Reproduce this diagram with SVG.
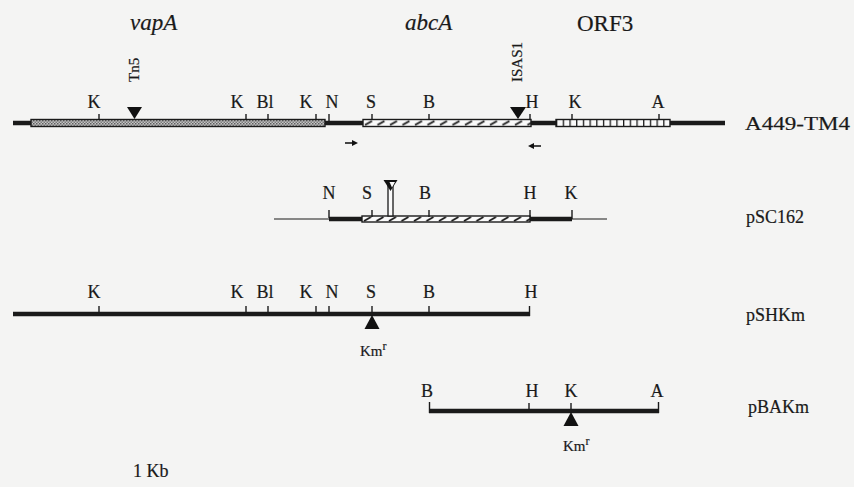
<svg xmlns="http://www.w3.org/2000/svg" width="854" height="487" viewBox="0 0 854 487">
  <defs>
    <style>
      text { stroke: #1a1a1a; stroke-width: 0.2; }
      .lbl { font-family: "Liberation Serif", "Times New Roman", serif; font-size: 18px; fill: #1a1a1a; text-anchor: middle; }
      .name { font-family: "Liberation Serif", "Times New Roman", serif; font-size: 18px; fill: #1a1a1a; }
      .gene { font-family: "Liberation Serif", "Times New Roman", serif; font-size: 23px; fill: #1a1a1a; }
      .ins { font-family: "Liberation Serif", "Times New Roman", serif; font-size: 15px; fill: #1a1a1a; }
      .dna { stroke: #1a1a1a; stroke-width: 4.5; fill: none; }
      .thin { stroke: #1a1a1a; stroke-width: 1.2; fill: none; }
      .tick { stroke: #1a1a1a; stroke-width: 1.4; }
      .box { stroke: #1a1a1a; stroke-width: 1.4; }
      .mark { fill: #111; }
    </style>
    <!-- grey stipple for the vapA region -->
    <pattern id="stipple" width="3" height="3" patternUnits="userSpaceOnUse">
      <rect width="3" height="3" fill="#c4c4c4"/>
      <rect width="1.5" height="1.5" fill="#5e5e5e"/>
      <rect x="1.5" y="1.5" width="1.5" height="1.5" fill="#7a7a7a"/>
    </pattern>
    <!-- slanted dashes for the abcA region -->
    <pattern id="hatch" width="12.5" height="7" patternUnits="userSpaceOnUse" x="363" y="119.5">
      <rect width="12.5" height="7" fill="#fafafa"/>
      <line x1="2" y1="5.5" x2="9" y2="1.5" stroke="#1a1a1a" stroke-width="1.9"/>
    </pattern>
    <pattern id="hatch2" width="12.5" height="6" patternUnits="userSpaceOnUse" x="362" y="216">
      <rect width="12.5" height="6" fill="#fafafa"/>
      <line x1="2" y1="5" x2="9" y2="1" stroke="#1a1a1a" stroke-width="1.9"/>
    </pattern>
    <!-- ladder rungs for the ORF3 region -->
    <pattern id="ladder" width="6.7" height="7" patternUnits="userSpaceOnUse" x="556" y="119.5">
      <rect width="6.7" height="7" fill="#fafafa"/>
      <line x1="0.5" y1="0" x2="0.5" y2="7" stroke="#1a1a1a" stroke-width="1.6"/>
    </pattern>
  </defs>

  <rect width="854" height="487" fill="#f4f4f3"/>

  <!-- gene names -->
  <g id="genes">
    <text class="gene" x="130" y="30" font-style="italic">vapA</text>
    <text class="gene" x="405" y="30" font-style="italic">abcA</text>
    <text class="gene" x="577" y="31">ORF3</text>
  </g>

  <!-- chromosome of A449-TM4 -->
  <g id="A449-TM4">
    <line class="dna" x1="13" y1="123" x2="725" y2="123"/>
    <rect class="box" x="31" y="119.5" width="294" height="7" fill="url(#stipple)"/>
    <rect class="box" x="363" y="119.5" width="168" height="7" fill="url(#hatch)"/>
    <rect class="box" x="556" y="119.5" width="114" height="7" fill="url(#ladder)"/>
    <g class="tick">
      <line x1="99" y1="114" x2="99" y2="120"/>
      <line x1="246" y1="114" x2="246" y2="120"/>
      <line x1="268" y1="114" x2="268" y2="120"/>
      <line x1="316" y1="114" x2="316" y2="120"/>
      <line x1="329" y1="114" x2="329" y2="121"/>
      <line x1="372" y1="114" x2="372" y2="120"/>
      <line x1="429" y1="114" x2="429" y2="120"/>
      <line x1="530" y1="114" x2="530" y2="120"/>
      <line x1="572" y1="114" x2="572" y2="120"/>
      <line x1="659" y1="114" x2="659" y2="120"/>
    </g>
    <text class="lbl" x="94" y="108">K</text>
    <text class="lbl" x="237" y="108">K</text>
    <text class="lbl" x="265" y="108">Bl</text>
    <text class="lbl" x="306" y="108">K</text>
    <text class="lbl" x="332" y="108">N</text>
    <text class="lbl" x="371" y="108">S</text>
    <text class="lbl" x="429" y="108">B</text>
    <text class="lbl" x="532" y="108">H</text>
    <text class="lbl" x="575" y="108">K</text>
    <text class="lbl" x="658" y="108">A</text>
    <!-- insertions -->
    <polygon class="mark" points="127,107 142,107 134.5,119"/>
    <text class="ins" transform="translate(139,82) rotate(-90)">Tn5</text>
    <polygon class="mark" points="510,107 526,107 518,119"/>
    <text class="ins" transform="translate(522,82) rotate(-90)">ISAS1</text>
    <text class="name" x="745" y="130" font-size="24" textLength="105" lengthAdjust="spacingAndGlyphs">A449-TM4</text>
  </g>

  <!-- primer arrows -->
  <g id="connectors">
    <path d="M345 143 H353" stroke="#1a1a1a" stroke-width="1.6"/>
    <polygon class="mark" points="352,140 358,143 352,146"/>
    <path d="M541 146 H533" stroke="#1a1a1a" stroke-width="1.6"/>
    <polygon class="mark" points="534,143 528,146 534,149"/>
  </g>

  <!-- pSC162 -->
  <g id="pSC162">
    <line class="thin" x1="274" y1="219" x2="607" y2="219"/>
    <line class="dna" x1="329" y1="219" x2="363" y2="219"/>
    <line class="dna" x1="529" y1="219" x2="572" y2="219"/>
    <rect class="box" x="362" y="216" width="168" height="6" fill="url(#hatch2)"/>
    <g class="tick">
      <line x1="329" y1="210" x2="329" y2="218"/>
      <line x1="372" y1="210" x2="372" y2="217"/>
      <line x1="429" y1="210" x2="429" y2="217"/>
      <line x1="530" y1="210" x2="530" y2="217"/>
      <line x1="572" y1="210" x2="572" y2="219"/>
    </g>
    <text class="lbl" x="329" y="199">N</text>
    <text class="lbl" x="367" y="199">S</text>
    <text class="lbl" x="425" y="199">B</text>
    <text class="lbl" x="530" y="199">H</text>
    <text class="lbl" x="571" y="199">K</text>
    <!-- inserted element -->
    <rect x="388" y="185" width="5" height="31" fill="#fafafa" stroke="#1a1a1a" stroke-width="1.3"/>
    <polygon class="mark" points="383.5,180 397.5,180 390.5,191"/>
    <polygon points="389.5,182 395,182 392,187.5" fill="#fafafa"/>
    <text class="name" x="746" y="223">pSC162</text>
  </g>

  <!-- pSHKm -->
  <g id="pSHKm">
    <line class="dna" x1="13" y1="314" x2="530" y2="314"/>
    <g class="tick">
      <line x1="99" y1="306" x2="99" y2="313"/>
      <line x1="246" y1="306" x2="246" y2="313"/>
      <line x1="268" y1="306" x2="268" y2="313"/>
      <line x1="316" y1="306" x2="316" y2="313"/>
      <line x1="329" y1="306" x2="329" y2="313"/>
      <line x1="372" y1="306" x2="372" y2="313"/>
      <line x1="429" y1="306" x2="429" y2="313"/>
      <line x1="529.5" y1="306" x2="529.5" y2="316"/>
    </g>
    <text class="lbl" x="94" y="298">K</text>
    <text class="lbl" x="237" y="298">K</text>
    <text class="lbl" x="265" y="298">Bl</text>
    <text class="lbl" x="306" y="298">K</text>
    <text class="lbl" x="332" y="298">N</text>
    <text class="lbl" x="371" y="298">S</text>
    <text class="lbl" x="429" y="298">B</text>
    <text class="lbl" x="531" y="298">H</text>
    <polygon class="mark" points="372,315 364.5,329 379.5,329"/>
    <text class="ins" x="360" y="356" font-size="16">Km<tspan font-size="12" dy="-6">r</tspan></text>
    <text class="name" x="746" y="321">pSHKm</text>
  </g>

  <!-- pBAKm -->
  <g id="pBAKm">
    <line class="dna" x1="429" y1="411" x2="659" y2="411"/>
    <g class="tick">
      <line x1="429.5" y1="402" x2="429.5" y2="413"/>
      <line x1="529" y1="403" x2="529" y2="410"/>
      <line x1="571" y1="403" x2="571" y2="410"/>
      <line x1="658.5" y1="402" x2="658.5" y2="413"/>
    </g>
    <text class="lbl" x="427" y="397">B</text>
    <text class="lbl" x="532" y="397">H</text>
    <text class="lbl" x="571" y="397">K</text>
    <text class="lbl" x="657" y="397">A</text>
    <polygon class="mark" points="571,412 563.5,426 578.5,426"/>
    <text class="ins" x="563" y="451" font-size="16">Km<tspan font-size="12" dy="-6">r</tspan></text>
    <text class="name" x="748" y="413">pBAKm</text>
  </g>

  <!-- scale -->
  <g id="scale">
    <text class="name" x="133" y="477" font-size="17">1 Kb</text>
  </g>
</svg>
